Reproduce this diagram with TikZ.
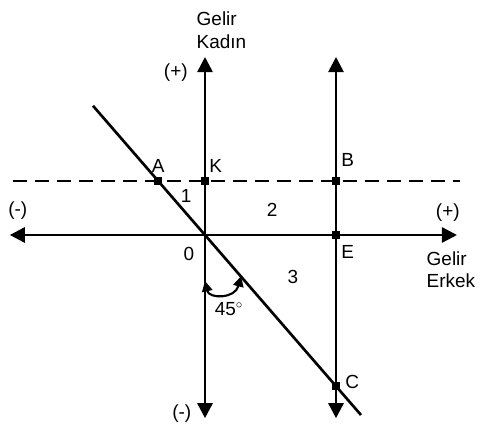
\documentclass[tikz,border=0pt]{standalone}
\usepackage{fontspec}
\setmainfont{Liberation Sans}
\usetikzlibrary{arrows.meta, positioning, calc}

\begin{document}
\begin{tikzpicture}[
  every node/.style={font=\fontsize{13.5}{16}\selectfont, inner sep=1pt},
  biaxis/.style={line width=1.9pt, {Triangle[length=3.8mm, width=3.8mm]}-{Triangle[length=3.8mm, width=3.8mm]}},
  guide/.style={line width=1.9pt, dash pattern=on 3.5mm off 2mm},
  pt/.style={fill=black, minimum size=2.1mm, inner sep=0pt},
  anglearrow/.style={line width=1.5pt, {Triangle[length=2.6mm, width=2.6mm]}-{Triangle[length=2.6mm, width=2.6mm]}}
]
  \useasboundingbox (-5.125,-4.975) rectangle (6.95,5.875);

  % Eksenler
  \coordinate (O) at (0,0);
  \coordinate (yTop) at (0,4.45);
  \coordinate (yBot) at (0,-4.58);
  \coordinate (xLeft) at (-4.88,0);
  \coordinate (xRight) at (6.3,0);
  \coordinate (bTop) at (3.275,4.45);
  \coordinate (bBot) at (3.275,-4.58);
  \coordinate (dLeft) at (-4.8,1.35);
  \coordinate (dRight) at (6.38,1.35);
  \coordinate (gTop) at (-2.8,3.23);
  \coordinate (gBot) at (3.9,-4.5);

  \draw[biaxis] (yBot) -- (yTop);
  \draw[biaxis] (xRight) -- (xLeft);
  \draw[biaxis] (bBot) -- (bTop);
  \draw[guide] (dLeft) -- (dRight);
  \draw[line width=1.9pt] (gTop) -- (gBot);

  % Noktalar
  \node[pt] (A) at (-1.17,1.35) {};
  \node[pt] (K) at (0,1.35) {};
  \node[pt] (B) at (3.275,1.35) {};
  \node[pt] (E) at (3.275,0) {};
  \node[pt] (C) at (3.275,-3.776) {};

  % 45 derece
  \coordinate (arcA) at (0,-1.15);
  \coordinate (arcB) at (0.9,-1.03);
  \draw[anglearrow] (arcA) .. controls (0.1,-1.6) and (0.75,-1.6) .. (arcB);

  % Etiketler
  \node[anchor=west, align=left] (ykad) at (-0.25,5.12) {Gelir\\Kadın};
  \node[anchor=west, align=left] (xerk) at (5.5,-0.87) {Gelir\\Erkek};
  \node (ypos) at (-0.73,4.05) {(+)};
  \node (yneg) at (-0.58,-4.47) {(-)};
  \node (xneg) at (-4.68,0.62) {(-)};
  \node (xpos) at (6.07,0.57) {(+)};
  \node (lA) at (-1.17,1.72) {A};
  \node (lK) at (0.27,1.72) {K};
  \node (lB) at (3.57,1.88) {B};
  \node (lE) at (3.57,-0.43) {E};
  \node (lC) at (3.68,-3.68) {C};
  \node (l0) at (-0.4,-0.48) {0};
  \node (l1) at (-0.47,0.97) {1};
  \node (l2) at (1.68,0.62) {2};
  \node (l3) at (2.2,-1.05) {3};
  \node (l45) at (0.6,-1.85) {45$^{\circ}$};
\end{tikzpicture}
\end{document}
